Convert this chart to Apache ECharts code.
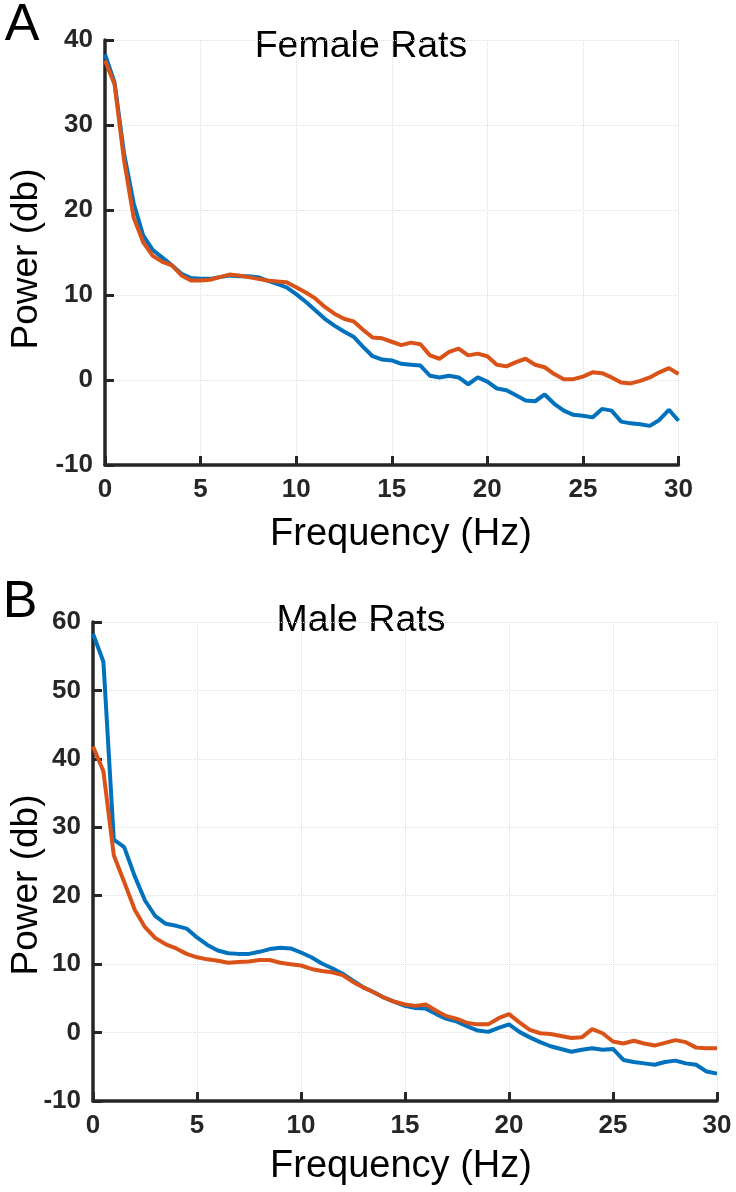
<!DOCTYPE html>
<html>
<head>
<meta charset="utf-8">
<script src="https://cdn.jsdelivr.net/npm/echarts@6/dist/echarts.min.js"></script>
<style>
html,body{margin:0;padding:0;background:#fff;}
#chart{width:736px;height:1192px;}
</style>
</head>
<body>
<div id="chart"></div>
<script>
// Frequency samples (Hz)
const freq = [0,0.5,1,1.5,2,2.5,3,3.5,4,4.5,5,5.5,6,6.5,7,7.5,8,8.5,9,9.5,10,10.5,11,11.5,12,12.5,13,13.5,14,14.5,15,15.5,16,16.5,17,17.5,18,18.5,19,19.5,20,20.5,21,21.5,22,22.5,23,23.5,24,24.5,25,25.5,26,26.5,27,27.5,28,28.5,29,29.5,30];

// Panel A – Female Rats
const femaleBlue = [38.3,35.0,26.6,20.8,17.0,15.3,14.4,13.5,12.5,12.0,11.9,11.9,12.1,12.3,12.2,12.2,12.1,11.7,11.3,10.9,10.1,9.2,8.2,7.2,6.4,5.7,5.1,3.9,2.8,2.4,2.3,1.9,1.8,1.7,0.5,0.3,0.5,0.3,-0.5,0.3,-0.2,-1.0,-1.2,-1.8,-2.4,-2.5,-1.7,-2.8,-3.6,-4.1,-4.2,-4.4,-3.4,-3.6,-4.9,-5.1,-5.2,-5.4,-4.7,-3.5,-4.8];
const femaleOrange = [37.6,34.8,25.8,19.1,16.2,14.6,13.9,13.5,12.3,11.7,11.7,11.8,12.1,12.4,12.3,12.1,11.9,11.7,11.6,11.5,10.9,10.3,9.6,8.6,7.8,7.2,6.9,5.9,5.0,4.9,4.5,4.1,4.4,4.2,2.9,2.5,3.3,3.7,2.9,3.1,2.8,1.8,1.6,2.1,2.5,1.8,1.5,0.7,0.1,0.1,0.4,0.9,0.8,0.3,-0.3,-0.4,-0.1,0.3,0.9,1.4,0.7];

// Panel B – Male Rats
const maleBlue = [58.3,54.2,28.2,27.1,22.9,19.3,17.0,15.9,15.6,15.2,13.9,12.8,12.0,11.6,11.5,11.5,11.8,12.2,12.4,12.3,11.7,11.0,10.1,9.4,8.6,7.6,6.6,5.9,5.1,4.5,3.9,3.6,3.5,2.7,2.0,1.6,0.9,0.3,0.1,0.7,1.2,0.1,-0.7,-1.4,-2.0,-2.4,-2.8,-2.5,-2.3,-2.5,-2.4,-4.0,-4.3,-4.5,-4.7,-4.3,-4.1,-4.5,-4.7,-5.7,-6.0];
const maleOrange = [41.8,38.2,25.9,22.0,18.0,15.4,13.8,12.9,12.3,11.5,11.0,10.7,10.5,10.2,10.3,10.4,10.6,10.6,10.2,10.0,9.8,9.3,9.0,8.8,8.4,7.4,6.6,5.9,5.1,4.5,4.1,3.9,4.1,3.2,2.4,2.0,1.4,1.2,1.2,2.1,2.7,1.5,0.4,-0.1,-0.2,-0.5,-0.8,-0.7,0.5,-0.1,-1.3,-1.6,-1.2,-1.6,-1.9,-1.5,-1.1,-1.4,-2.2,-2.3,-2.3];

// Axis ranges / tick steps
const xRange = [0, 30], xStep = 5;
const yRangeA = [-10, 40], yRangeB = [-10, 60], yStep = 10;

const titles = ['Female Rats', 'Male Rats'];
const panelLetters = ['A', 'B'];
const xName = 'Frequency (Hz)', yName = 'Power (db)';

const BLUE = '#0072BD', ORANGE = '#D95319', AX = '#262626';
const FONT = '"Liberation Sans", Arial, sans-serif';

function pairs(v){ return freq.map((f,i)=>[f, v[i]]); }

function axisCommon(){
  return {
    axisLine:{show:true, onZero:false, lineStyle:{color:AX, width:3.5}},
    axisTick:{show:true, inside:true, length:9, lineStyle:{color:AX, width:3}},
    axisLabel:{fontSize:26, fontWeight:'bold', color:AX, margin:12, fontFamily:FONT},
    splitLine:{show:true, lineStyle:{type:'dotted', color:'#dedede', width:1}}
  };
}
function xAxis(gi){
  return Object.assign({gridIndex: gi, type:'value', min:xRange[0], max:xRange[1], interval:xStep}, axisCommon());
}
function yAxis(gi, r){
  return Object.assign({gridIndex: gi, type:'value', min:r[0], max:r[1], interval:yStep}, axisCommon());
}
function line(gi, data, color){
  return {
    type:'line', xAxisIndex:gi, yAxisIndex:gi, data:pairs(data),
    showSymbol:false, symbol:'none', animation:false,
    lineStyle:{color:color, width:4}, itemStyle:{color:color}
  };
}
function txt(x, y, s, size, rot){
  return {
    type:'text', x:x, y:y, rotation: rot || 0,
    style:{text:s, font: size + 'px ' + FONT, fill:'#000',
      textAlign:'center', align:'center', textVerticalAlign:'middle', verticalAlign:'middle'}
  };
}

const chart = echarts.init(document.getElementById('chart'), null, {renderer:'canvas'});
chart.setOption({
  animation:false,
  backgroundColor:'#fff',
  grid:[
    {left:105, top:40, width:573.5, height:425},
    {left:93, top:622, width:624, height:479}
  ],
  xAxis:[xAxis(0), xAxis(1)],
  yAxis:[yAxis(0, yRangeA), yAxis(1, yRangeB)],
  series:[
    line(0, femaleBlue, BLUE),
    line(0, femaleOrange, ORANGE),
    line(1, maleBlue, BLUE),
    line(1, maleOrange, ORANGE)
  ],
  graphic:[
    txt(22, 26, panelLetters[0], 52),
    txt(20, 603, panelLetters[1], 52),
    txt(361, 47, titles[0], 37.5),
    txt(361, 621, titles[1], 37.5),
    txt(401, 535, xName, 38),
    txt(401, 1167, xName, 38),
    txt(27, 259, yName, 37, Math.PI/2),
    txt(27, 885, yName, 37, Math.PI/2)
  ]
});
</script>
</body>
</html>
